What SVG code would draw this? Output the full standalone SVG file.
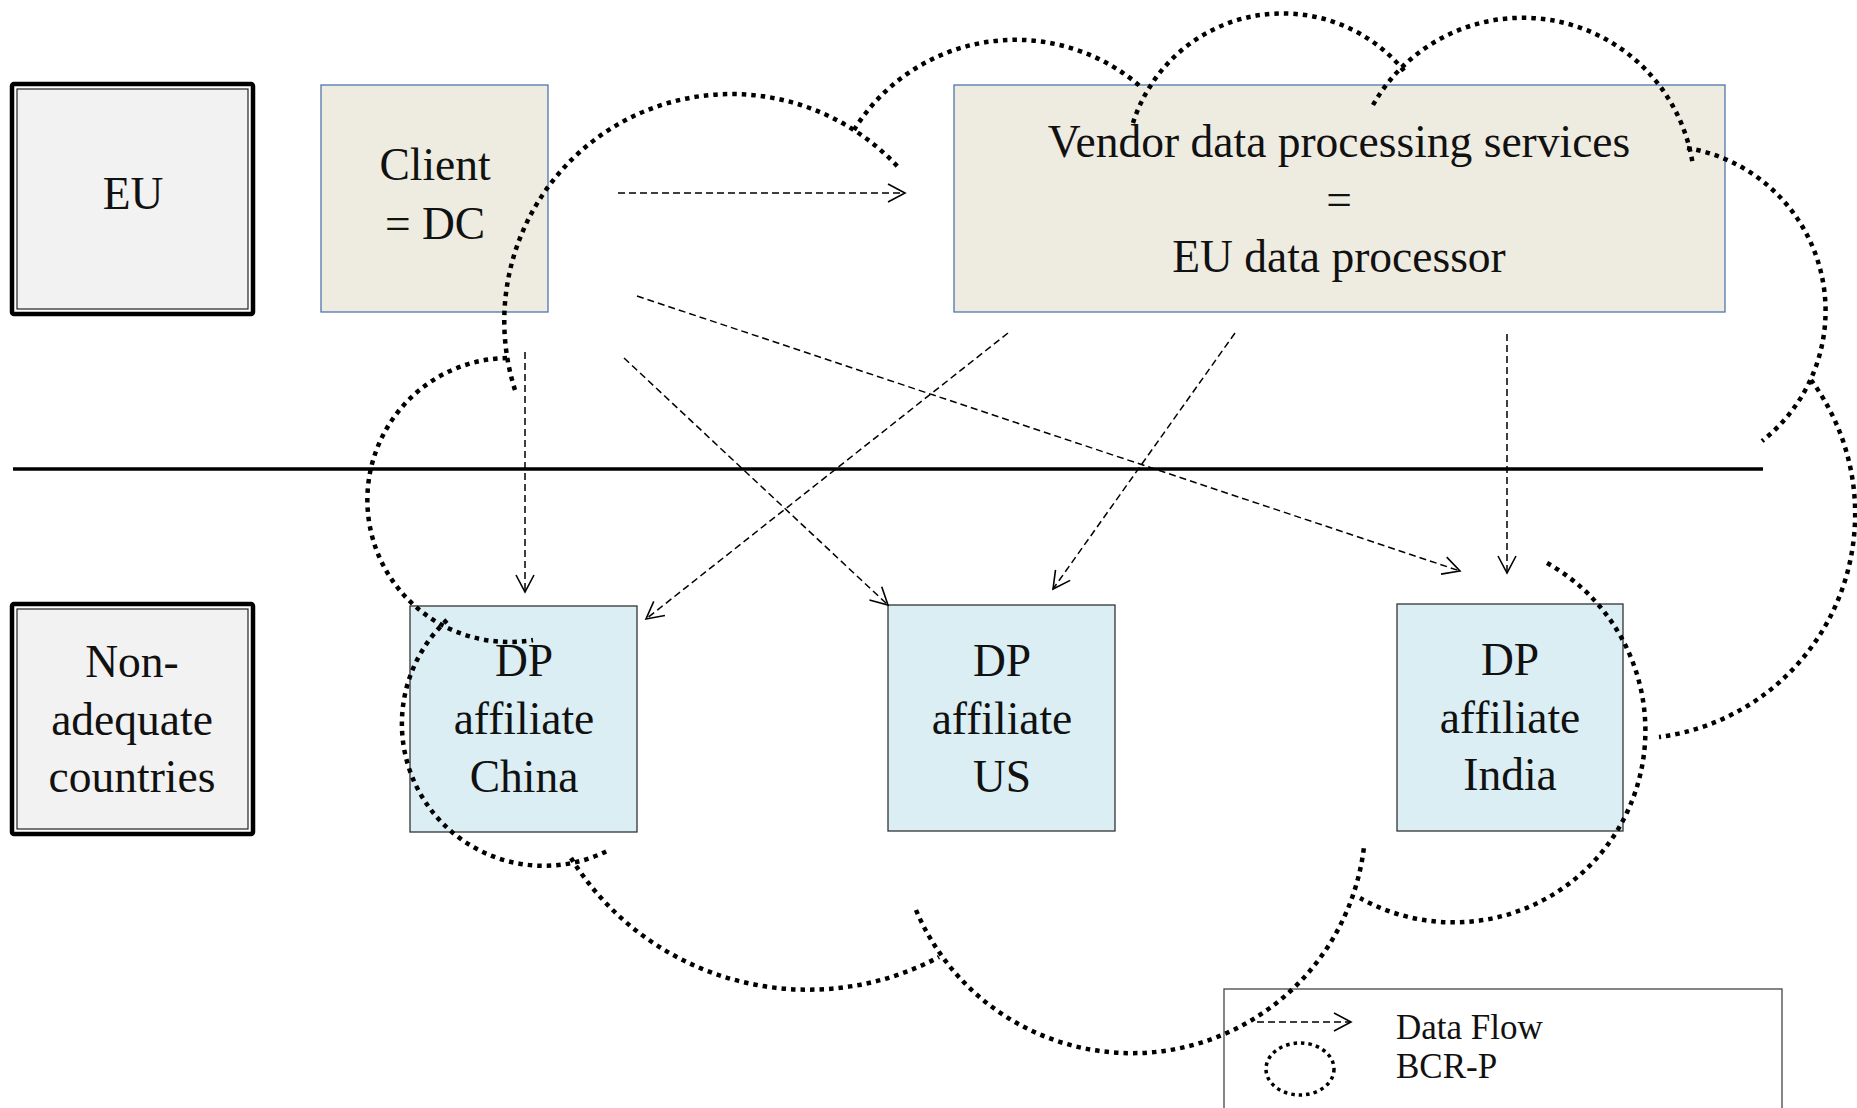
<svg xmlns="http://www.w3.org/2000/svg" width="1857" height="1108" viewBox="0 0 1857 1108">
<style>
  .t { font-family: "Liberation Serif", "Times New Roman", serif; font-size: 45.5px; fill: #111; text-anchor: middle; }
  .lt { font-family: "Liberation Serif", "Times New Roman", serif; font-size: 35px; fill: #111; }
  .region-outer { fill: #ffffff; stroke: #000; stroke-width: 4.5; }
  .region-inner { fill: #f2f2f2; stroke: #222; stroke-width: 1.2; }
  .eu { fill: #eeece1; stroke: #4f76ac; stroke-width: 1.3; }
  .dp { fill: #dbeef4; stroke: #333; stroke-width: 1.3; }
  .flow { fill: none; stroke: #000; stroke-width: 1.5; stroke-dasharray: 7 4; }
  .cloud { fill: none; stroke: #000; stroke-width: 4.5; stroke-dasharray: 4.5 5; }
</style>
<defs>
  <marker id="arr" markerWidth="20" markerHeight="20" refX="18" refY="10" orient="auto" markerUnits="userSpaceOnUse" overflow="visible">
    <path d="M1,1 L18,10 L1,19" fill="none" stroke="#000" stroke-width="1.6"/>
  </marker>
</defs>
<rect width="1857" height="1108" fill="#ffffff"/>

<g id="eu">
  <rect class="region-outer" x="12" y="84" width="241" height="230" rx="2"/>
  <rect class="region-inner" x="17" y="89" width="231" height="220"/>
  <text class="t" x="133" y="209">EU</text>
</g>
<g id="non-adequate">
  <rect class="region-outer" x="12" y="604" width="241" height="230" rx="2"/>
  <rect class="region-inner" x="17" y="609" width="231" height="220"/>
  <text class="t" x="132" y="677">Non-</text>
  <text class="t" x="132" y="735">adequate</text>
  <text class="t" x="132" y="792">countries</text>
</g>
<g id="client">
  <rect class="eu" x="321" y="85" width="227" height="227"/>
  <text class="t" x="435" y="180">Client</text>
  <text class="t" x="435" y="239">= DC</text>
</g>
<g id="vendor">
  <rect class="eu" x="954" y="85" width="771" height="227"/>
  <text class="t" x="1339" y="157">Vendor data processing services</text>
  <text class="t" x="1339" y="215">=</text>
  <text class="t" x="1339" y="272">EU data processor</text>
</g>
<g id="dp-china">
  <rect class="dp" x="410" y="606" width="227" height="226"/>
  <text class="t" x="524" y="676">DP</text>
  <text class="t" x="524" y="734">affiliate</text>
  <text class="t" x="524" y="792">China</text>
</g>
<g id="dp-us">
  <rect class="dp" x="888" y="605" width="227" height="226"/>
  <text class="t" x="1002" y="676">DP</text>
  <text class="t" x="1002" y="734">affiliate</text>
  <text class="t" x="1002" y="792">US</text>
</g>
<g id="dp-india">
  <rect class="dp" x="1397" y="604" width="226" height="227"/>
  <text class="t" x="1510" y="675">DP</text>
  <text class="t" x="1510" y="733">affiliate</text>
  <text class="t" x="1510" y="790">India</text>
</g>

<g id="border">
  <line x1="13" y1="469" x2="1763" y2="469" stroke="#000" stroke-width="3.5"/>
</g>

<g id="connectors">
  <line class="flow" x1="618" y1="193" x2="905" y2="193" marker-end="url(#arr)"/>
  <line class="flow" x1="525" y1="352" x2="525" y2="592" marker-end="url(#arr)"/>
  <line class="flow" x1="624" y1="358" x2="888" y2="605" marker-end="url(#arr)"/>
  <line class="flow" x1="637" y1="296" x2="1460" y2="571" marker-end="url(#arr)"/>
  <line class="flow" x1="1008" y1="333" x2="646" y2="619" marker-end="url(#arr)"/>
  <line class="flow" x1="1235" y1="333" x2="1053" y2="589" marker-end="url(#arr)"/>
  <line class="flow" x1="1507" y1="334" x2="1507" y2="573" marker-end="url(#arr)"/>
</g>

<g id="legend">
  <rect x="1224" y="989" width="558" height="150" fill="#ffffff" stroke="#444" stroke-width="1.3"/>
  <line class="flow" x1="1257" y1="1022" x2="1351" y2="1022" marker-end="url(#arr)"/>
  <ellipse cx="1300" cy="1069" rx="34" ry="26" fill="none" stroke="#000" stroke-width="3.5" stroke-dasharray="3.5 4"/>
  <text class="lt" x="1396" y="1039">Data Flow</text>
  <text class="lt" x="1396" y="1078">BCR-P</text>
</g>

<g id="bcr-cloud">
  <path class="cloud" d="M515 390 A227 227 0 0 1 898 167"/>
  <path class="cloud" d="M854 130 A190 190 0 0 1 1141 87"/>
  <path class="cloud" d="M1133 123 A157 157 0 0 1 1405 72"/>
  <path class="cloud" d="M1373 105 A172 172 0 0 1 1693 166"/>
  <path class="cloud" d="M1687 148 A165 165 0 0 1 1762 441"/>
  <path class="cloud" d="M1811 380 A225 225 0 0 1 1659 737"/>
  <path class="cloud" d="M1547 563 A189 189 0 1 1 1360 898"/>
  <path class="cloud" d="M916 910 A234 234 0 0 0 1364 847"/>
  <path class="cloud" d="M571 858 A279 279 0 0 0 939 957"/>
  <path class="cloud" d="M447 620 A142 142 0 0 0 609 850"/>
  <path class="cloud" d="M507 358 A142 142 0 1 0 533 640"/>
</g>
</svg>
